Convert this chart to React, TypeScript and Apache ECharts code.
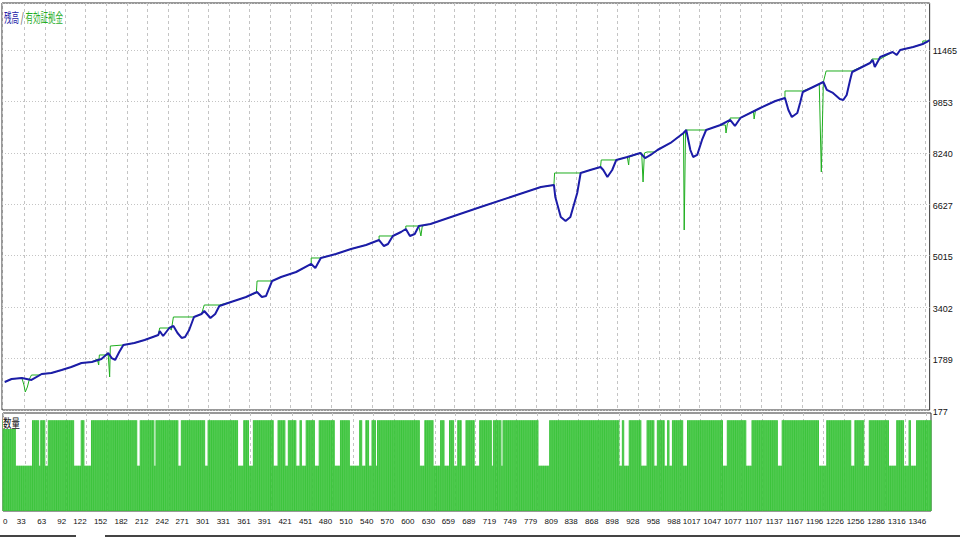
import React, { useEffect, useRef } from "react";
import * as echarts from "echarts";

// x tick labels (trade number) and y tick labels (account value)
const xTickLabels = [0, 33, 63, 92, 122, 152, 182, 212, 242, 271, 301, 331, 361, 391, 421, 451, 480, 510, 540, 570, 600, 630, 659, 689, 719, 749, 779, 809, 838, 868, 898, 928, 958, 988, 1017, 1047, 1077, 1107, 1137, 1167, 1196, 1226, 1256, 1286, 1316, 1346];
const yTickLabels = [177, 1789, 3402, 5015, 6627, 8240, 9853, 11465];
const yMin = 177;
const yStep = 1612.571;
const yMax = 12938;
const tradeCount = 1354;

// balance (残高) [trade, value]
const balance: [number, number][] = [
  [4, 1055], [14, 1149], [29, 1180], [43, 1118], [58, 1306], [72, 1337], [87, 1431], [101, 1525], [116, 1651], [131, 1682],
  [145, 1776], [155, 1964], [160, 1807], [165, 1745], [171, 1996], [177, 2215], [193, 2278], [208, 2372], [228, 2529], [230, 2654],
  [235, 2497], [244, 2748], [250, 2811], [256, 2591], [262, 2435], [267, 2466], [273, 2685], [280, 3093], [291, 3187], [295, 3281],
  [304, 3062], [311, 3187], [317, 3438], [334, 3563], [356, 3720], [372, 3877], [379, 3720], [385, 3751], [394, 4222], [407, 4347],
  [429, 4504], [451, 4755], [457, 4629], [465, 4943], [487, 5068], [509, 5225], [531, 5351], [550, 5507], [557, 5319], [563, 5382],
  [570, 5633], [582, 5758], [589, 5852], [595, 5633], [602, 5695], [608, 5946], [625, 6009], [655, 6229], [698, 6542], [742, 6856],
  [786, 7169], [805, 7232], [807, 6856], [815, 6229], [822, 6103], [829, 6229], [839, 6981], [844, 7608], [858, 7702], [873, 7796],
  [877, 7702], [883, 7483], [890, 7702], [896, 8016], [912, 8110], [931, 8235], [938, 8078], [946, 8173], [956, 8329], [975, 8549],
  [994, 8862], [998, 8956], [1004, 8329], [1008, 8110], [1014, 8173], [1021, 8643], [1027, 8956], [1048, 9113], [1062, 9270], [1069, 9082],
  [1077, 9333], [1106, 9646], [1128, 9866], [1142, 9960], [1147, 9584], [1152, 9364], [1160, 9489], [1164, 9803], [1168, 10148], [1183, 10305],
  [1198, 10461], [1203, 10211], [1212, 10117], [1222, 9928], [1227, 9897], [1232, 10054], [1237, 10524], [1240, 10775], [1266, 11057], [1270, 11151],
  [1273, 10932], [1281, 11245], [1299, 11402], [1305, 11308], [1310, 11465], [1329, 11559], [1343, 11653], [1349, 11716], [1353, 11778],
];

// equity (有効証拠金) [trade, value]
const equity: [number, number][] = [
  [4, 1055], [14, 1149], [29, 1180], [32, 961], [34, 741], [37, 898], [40, 1149], [43, 1274], [53, 1274], [58, 1306],
  [72, 1337], [87, 1431], [101, 1525], [116, 1651], [131, 1682], [139, 1776], [141, 1588], [142, 1902], [155, 1902], [157, 1212],
  [158, 2184], [177, 2215], [193, 2278], [208, 2372], [228, 2529], [230, 2748], [244, 2748], [247, 2685], [250, 3093], [280, 3093],
  [291, 3187], [295, 3469], [317, 3469], [334, 3563], [356, 3720], [371, 3846], [372, 4222], [394, 4222], [407, 4347], [429, 4504],
  [451, 4755], [451, 4943], [465, 4943], [487, 5068], [509, 5225], [531, 5351], [550, 5507], [550, 5633], [570, 5633], [582, 5758],
  [589, 5852], [589, 5946], [608, 5946], [611, 5633], [613, 5946], [625, 6009], [655, 6229], [698, 6542], [742, 6856], [786, 7169],
  [805, 7232], [806, 7608], [844, 7608], [858, 7702], [873, 7796], [874, 8016], [896, 8016], [912, 8110], [914, 7859], [915, 8110],
  [931, 8235], [933, 8235], [935, 7326], [937, 8235], [941, 8267], [953, 8267], [956, 8329], [975, 8549], [994, 8862], [995, 5821],
  [997, 8956], [1027, 8956], [1048, 9113], [1055, 9113], [1056, 8862], [1058, 9150], [1062, 9270], [1062, 9333], [1077, 9333], [1096, 9550],
  [1097, 9300], [1099, 9580], [1106, 9646], [1128, 9866], [1142, 9960], [1142, 10179], [1168, 10179], [1183, 10305], [1192, 10400], [1195, 7639],
  [1198, 10461], [1202, 10806], [1240, 10806], [1266, 11057], [1269, 11183], [1281, 11183], [1299, 11402], [1305, 11308], [1310, 11465], [1329, 11559],
  [1343, 11653], [1343, 11747], [1350, 11747], [1353, 11778],
];

// lot sizes (数量): runs of trades with the smaller lot, all others use the larger lot
const lotHigh = 0.02;
const lotLow = 0.01;
const lowLotRuns: [number, number][] = [
  [19, 42], [53, 54], [62, 65], [104, 113], [119, 128], [196, 199], [221, 222], [256, 259], [295, 298], [343, 350],
  [359, 364], [395, 400], [412, 415], [428, 432], [436, 441], [455, 460], [484, 491], [506, 519], [524, 528], [534, 537],
  [544, 545], [608, 614], [628, 637], [644, 650], [658, 662], [669, 674], [688, 694], [713, 714], [727, 728], [781, 796],
  [899, 902], [906, 912], [931, 938], [950, 953], [965, 968], [972, 975], [992, 997], [1050, 1055], [1084, 1091], [1130, 1135],
  [1190, 1200], [1237, 1241], [1256, 1262], [1292, 1302], [1314, 1320], [1324, 1331],
];

const categories = Array.from({ length: tradeCount }, (_, i) => String(i));
const lots = categories.map((_, i) =>
  lowLotRuns.some(([a, b]) => i >= a && i <= b) ? lotLow : lotHigh
);
const tickSet = new Set(xTickLabels);

const FONT = '"Liberation Sans", Arial, sans-serif';
const BLUE = "#1c1ca8";
const GREEN = "#1fae1f";

export default function App() {
  const ref = useRef<HTMLDivElement>(null);
  useEffect(() => {
    if (!ref.current) return;
    const chart = echarts.init(ref.current, undefined, { renderer: "svg" });
    const gridLine = { color: "#c4c4c4", width: 1 };
    chart.setOption({
      animation: false,
      backgroundColor: "#ffffff",
      textStyle: { fontFamily: FONT },
      grid: [
        { left: 2, right: 29, top: 3, height: 407, show: true, borderColor: "#333", borderWidth: 1, backgroundColor: "transparent" },
        { left: 2, right: 29, top: 413, height: 98, show: true, borderColor: "#333", borderWidth: 1, backgroundColor: "transparent" },
      ],
      xAxis: [
        {
          type: "category", gridIndex: 0, data: categories, boundaryGap: false,
          axisLine: { show: false }, axisTick: { show: false }, axisLabel: { show: false },
          splitLine: { show: true, interval: (i: number) => tickSet.has(i), lineStyle: { ...gridLine, type: [3, 3] } },
        },
        {
          type: "category", gridIndex: 1, data: categories, boundaryGap: false,
          axisLine: { show: false }, axisTick: { show: false },
          axisLabel: {
            interval: (i: number) => tickSet.has(i),
            align: "right", alignMinLabel: "left", alignMaxLabel: "right",
            showMaxLabel: true, hideOverlap: false,
            fontSize: 8, color: "#111", margin: 6, fontFamily: FONT,
          },
          splitLine: { show: true, interval: (i: number) => tickSet.has(i), lineStyle: { ...gridLine, type: [3, 3] } },
        },
      ],
      yAxis: [
        {
          type: "value", gridIndex: 0, position: "right", min: yMin, max: yMax, interval: yStep,
          axisLine: { show: false }, axisTick: { show: false },
          splitLine: { show: true, lineStyle: { ...gridLine, type: [1, 2] } },
          axisLabel: {
            showMaxLabel: false, showMinLabel: true, margin: 3, fontSize: 9, color: "#111", fontFamily: FONT,
            verticalAlign: "top", padding: [-3, 0, 0, 0],
            formatter: (v: number) => {
              const k = Math.round((v - yMin) / yStep);
              return yTickLabels[k] !== undefined ? String(yTickLabels[k]) : "";
            },
          },
        },
        { type: "value", gridIndex: 1, min: 0, max: 0.0216, show: false, splitLine: { show: false } },
      ],
      series: [
        {
          name: "有効証拠金", type: "line", xAxisIndex: 0, yAxisIndex: 0, data: equity,
          showSymbol: false, symbol: "none", lineStyle: { color: GREEN, width: 1 }, z: 2,
        },
        {
          name: "残高", type: "line", xAxisIndex: 0, yAxisIndex: 0, data: balance,
          showSymbol: false, symbol: "none", lineStyle: { color: BLUE, width: 2 }, z: 3,
        },
        {
          name: "数量", type: "bar", xAxisIndex: 1, yAxisIndex: 1, data: lots,
          barCategoryGap: "0%", itemStyle: { color: "#3cc43c" }, z: 1,
        },
      ],
      graphic: [
        {
          type: "text", x: 4, y: 10, scaleX: 0.58, z: 10,
          style: {
            text: "{b|残高}{s| / }{g|有効証拠金}",
            font: '13px "Noto Sans CJK JP"',
            rich: {
              b: { fill: BLUE, fontSize: 13, fontFamily: "Noto Sans CJK JP" },
              s: { fill: "#333", fontSize: 13, fontFamily: "Noto Sans CJK JP" },
              g: { fill: GREEN, fontSize: 13, fontFamily: "Noto Sans CJK JP" },
            },
          },
        },
        {
          type: "text", x: 3, y: 417, scaleX: 0.7, z: 10,
          style: {
            text: "数量", fill: "#111", font: '12px "Noto Sans CJK JP"',
            backgroundColor: "#ffffff",
          },
        },
        { type: "rect", shape: { x: 0, y: 535, width: 76, height: 2 }, style: { fill: "#444" } },
        { type: "rect", shape: { x: 105, y: 535, width: 855, height: 2 }, style: { fill: "#444" } },
      ],
    });
    return () => chart.dispose();
  }, []);
  return (
    <div
      ref={ref}
      style={{ position: "absolute", left: 0, top: 0, width: 960, height: 540 }}
    />
  );
}
